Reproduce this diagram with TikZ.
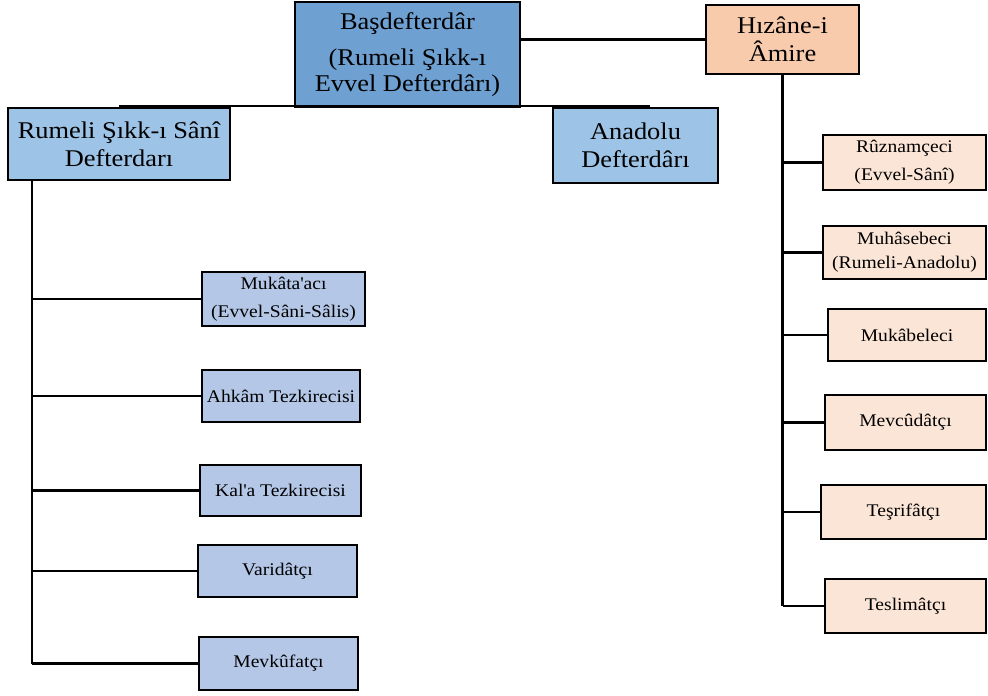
\documentclass[tikz,border=0pt]{standalone}
\usepackage{fontspec}
\setmainfont[FakeStretch=1.1]{Liberation Serif}

\definecolor{topblue}{HTML}{6FA0D2}
\definecolor{midblue}{HTML}{9DC3E6}
\definecolor{lowblue}{HTML}{B4C7E7}
\definecolor{hizpeach}{HTML}{F8CBAD}
\definecolor{lowpeach}{HTML}{FBE5D6}

\tikzset{
  box/.style={draw, line width=1.4pt, align=center, inner sep=0pt, outer sep=0pt},
  bigtxt/.style={font=\fontsize{12}{14}\selectfont},
  smalltxt/.style={font=\fontsize{8.9}{14}\selectfont},
  size/.style 2 args={minimum width=#1*0.5pt, minimum height=#2*0.5pt},
  link/.style={line width=1.4pt},
}

\begin{document}
\begin{tikzpicture}[x=0.5pt, y=-0.5pt]  % 坐标按像素计

    \useasboundingbox (0,0) rectangle (988,695);

    % 顶部两个框
    \node[box, bigtxt, fill=topblue, size={225}{105}, font=\fontsize{12}{13}\selectfont] (bas) at (407.5,54.5)
        {Başdefterdâr\\[5pt](Rumeli Şıkk-ı\\Evvel Defterdârı)};
    \node[box, bigtxt, fill=hizpeach, size={153}{69}] (hiz) at (782.5,39.5) {Hızâne-i\\Âmire};

    % 第二层
    \node[box, bigtxt, fill=midblue, size={222}{72}] (rum) at (119,144) {Rumeli Şıkk-ı Sânî\\Defterdarı};
    \node[box, bigtxt, fill=midblue, size={165}{75}] (ana) at (635.5,145.5) {Anadolu\\Defterdârı};

    % 左侧下属
    \node[box, smalltxt, fill=lowblue, size={163}{54}] (muk) at (283.5,299) {Mukâta\textquotesingle acı\\(Evvel-Sâni-Sâlis)};
    \node[box, smalltxt, fill=lowblue, size={158}{52}] (ahk) at (281,396) {Ahkâm Tezkirecisi};
    \node[box, smalltxt, fill=lowblue, size={161}{51}] (kal) at (280.5,490.5) {Kal\textquotesingle a Tezkirecisi};
    \node[box, smalltxt, fill=lowblue, size={159}{52}] (var) at (277.5,571) {Varidâtçı};
    \node[box, smalltxt, fill=lowblue, size={159}{53}] (mev) at (278.5,663.5) {Mevkûfatçı};

    % 右侧下属
    \node[box, smalltxt, fill=lowpeach, size={163}{55}] (ruz) at (904.5,162.5) {Rûznamçeci\\(Evvel-Sânî)};
    \node[box, smalltxt, fill=lowpeach, size={163}{53}, font=\fontsize{8.9}{12}\selectfont] (muh) at (904.5,252.5) {Muhâsebeci\\(Rumeli-Anadolu)};
    \node[box, smalltxt, fill=lowpeach, size={158}{52}] (mkb) at (907,335) {Mukâbeleci};
    \node[box, smalltxt, fill=lowpeach, size={161}{55}] (mvc) at (905.5,422.5) {Mevcûdâtçı};
    \node[box, smalltxt, fill=lowpeach, size={165}{54}] (tes) at (903.5,512) {Teşrifâtçı};
    \node[box, smalltxt, fill=lowpeach, size={161}{54}] (tsl) at (905.5,606) {Teslimâtçı};

    % 连线
    \coordinate (barR) at (650,106);
    \coordinate (trunkL) at (32,180);

    \draw[link] (bas.east |- hiz.west) -- (hiz.west);
    \draw[link] (rum.north |- barR) -- (barR);

    \draw[link] (rum.south -| trunkL) -- (trunkL |- mev.west);
    \foreach \n in {muk,ahk,kal,var,mev}
        \draw[link] (trunkL |- \n.west) -- (\n.west);

    \draw[link] (hiz.south) -- (hiz.south |- tsl.west);
    \foreach \n in {ruz,muh,mkb,mvc,tes,tsl}
        \draw[link] (hiz.south |- \n.west) -- (\n.west);

\end{tikzpicture}
\end{document}
